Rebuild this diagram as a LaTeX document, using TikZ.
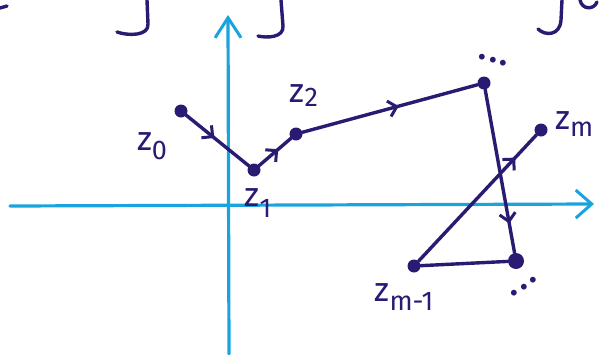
\documentclass[tikz,border=0pt]{standalone}
\usepackage{fontspec}
\setsansfont{Fira Sans}
\usetikzlibrary{arrows.meta,decorations.markings}
\definecolor{ink}{HTML}{2B1A72}
\definecolor{axisblue}{HTML}{1AA3DD}
\tikzset{
  axisline/.style={draw=axisblue,line width=3.2pt,line cap=round},
  inkline/.style={draw=ink,line width=3.4pt,line cap=round,line join=round},
  dotnode/.style={circle,fill=ink,inner sep=0pt,minimum size=13pt},
  lab/.style={text=ink,font=\sffamily\fontsize{34}{34}\selectfont,inner sep=0pt},
  dotslab/.style={text=ink,font=\sffamily\bfseries\fontsize{32}{32}\selectfont,inner sep=0pt},
  midarr/.style={postaction={decorate},decoration={markings,mark=at position #1 with {\arrow[ink,line width=3pt]{Straight Barb[length=8pt,width=16pt]}}}}
}
\begin{document}
\begin{tikzpicture}[x=1pt,y=-1pt]
\useasboundingbox (0,0) rectangle (600,354);
% cut-off handwriting at the top
\draw[inkline] (147,0) -- (148,24) .. controls (149,36) and (128,36) .. (117,32);
\draw[inkline] (281,0) -- (283,26) .. controls (284,38) and (266,38) .. (258,36);
\draw[inkline] (562,0) -- (561,20) .. controls (560,36) and (545,36) .. (538,29);
\draw[inkline] (580,0) .. controls (582,10) and (594,10) .. (597,2);
\draw[inkline] (0,8) -- (7,6);
% axes
\coordinate (xl) at (10,206);
\coordinate (xr) at (594,204);
\coordinate (yb) at (229,354);
\coordinate (yt) at (228,15);
\draw[axisline,-{Straight Barb[length=16pt,width=28pt,line width=3pt]}] (xl) -- (xr);
\draw[axisline,-{Straight Barb[length=20pt,width=26pt,line width=3pt]}] (yb) -- (yt);
% points
\node[dotnode] (z0) at (181,111) {};
\node[dotnode] (z1) at (254,170) {};
\node[dotnode] (z2) at (296,134) {};
\node[dotnode] (zt) at (484,83) {};
\node[dotnode] (zm) at (541,130) {};
\node[dotnode,minimum size=16pt] (zb) at (516,261) {};
\node[dotnode] (zm1) at (414,266) {};
% path
\draw[inkline,midarr=0.45] (z0) -- (z1);
\draw[inkline,midarr=0.6] (z1) -- (z2);
\draw[inkline,midarr=0.55] (z2) -- (zt);
\draw[inkline,midarr=0.82] (zt) -- (zb);
\draw[inkline] (zb) -- (zm1);
\draw[inkline,midarr=0.82] (zm1) -- (zm);
% labels
\node[lab] (l0) at (152,146) {z\raisebox{-9pt}{\fontsize{27}{27}\selectfont 0}};
\node[lab] (l1) at (258,203) {z\raisebox{-11pt}{\fontsize{27}{27}\selectfont 1}};
\node[lab] (l2) at (304,96) {z\raisebox{-4pt}{\fontsize{27}{27}\selectfont 2}};
\node[lab,anchor=west] (lm) at (555,124) {z\raisebox{-7pt}{\fontsize{27}{27}\selectfont m}};
\node[lab] (lm1) at (404,297) {z\raisebox{-9pt}{\fontsize{27}{27}\selectfont m-1}};
\node[dotslab] (lt) at (493,60) {.\hspace{3pt}\raisebox{-3pt}{.}\hspace{3pt}\raisebox{-6pt}{.}};
\node[dotslab] (lb) at (524,287) {.\hspace{2pt}\raisebox{6pt}{.}\hspace{2pt}\raisebox{13pt}{.}};
\end{tikzpicture}
\end{document}
